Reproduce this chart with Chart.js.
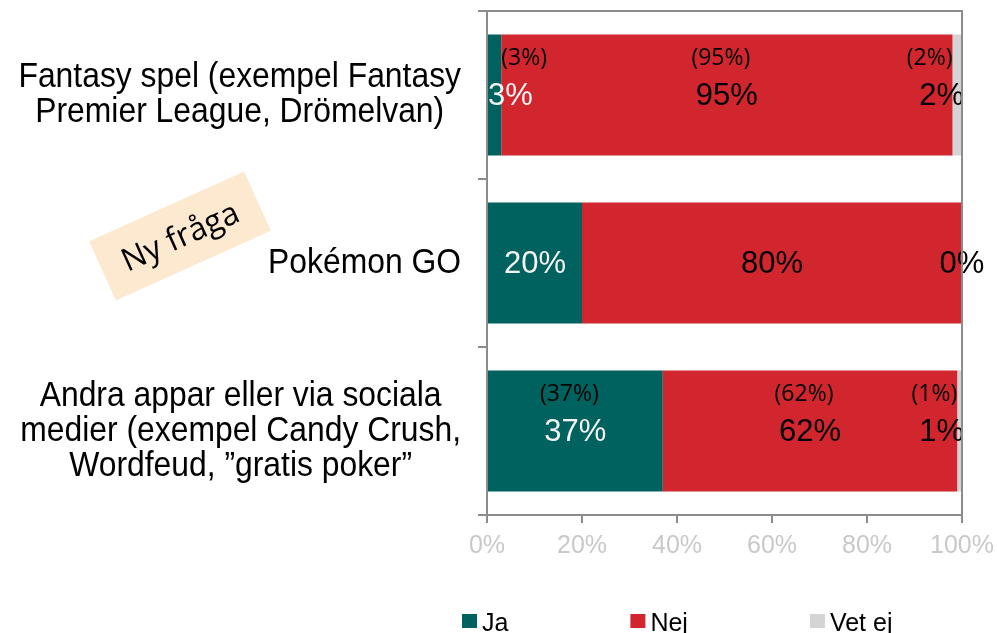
<!DOCTYPE html>
<html>
<head>
<meta charset="utf-8">
<script src="https://cdn.jsdelivr.net/npm/chart.js@4.4.1/dist/chart.umd.min.js"></script>
<style>
  html, body { margin: 0; padding: 0; background: #ffffff; }
  #wrap { width: 997px; height: 633px; position: relative; }
</style>
</head>
<body>
<div id="wrap"><canvas id="c" width="997" height="633"></canvas></div>
<script>
// ---- data ----
const categories = [
  ['Fantasy spel (exempel Fantasy', 'Premier League, Drömelvan)'],
  ['Pokémon GO'],
  ['Andra appar eller via sociala', 'medier (exempel Candy Crush,', 'Wordfeud, ”gratis poker”']
];
const seriesNames = ['Ja', 'Nej', 'Vet ej'];
const jaValues = [3, 20, 37];
const nejValues = [95, 80, 62];
const vetEjValues = [2, 0, 1];
// previous measurement (shown in parentheses); new question has none
const jaPrev = [3, null, 37];
const nejPrev = [95, null, 62];
const vetEjPrev = [2, null, 1];
const xTicks = [0, 20, 40, 60, 80, 100];
const noteText = 'Ny fråga';

const colors = ['#00625e', '#d2262f', '#d4d4d4'];
const prevByDataset = [jaPrev, nejPrev, vetEjPrev];
const AXIS = '#8c8c8c';

const frame = {
  id: 'frame',
  afterDraw(chart) {
    const { ctx, chartArea: a } = chart;
    ctx.save();
    ctx.strokeStyle = AXIS;
    ctx.lineWidth = 2;
    ctx.beginPath();
    ctx.moveTo(a.left, a.top);
    ctx.lineTo(a.right, a.top);
    ctx.lineTo(a.right, a.bottom);
    ctx.stroke();
    ctx.restore();
  }
};

const dataLabels = {
  id: 'dataLabels',
  afterDatasetsDraw(chart) {
    const ctx = chart.ctx;
    const last = chart.data.datasets.length - 1;
    chart.data.datasets.forEach((ds, di) => {
      const meta = chart.getDatasetMeta(di);
      meta.data.forEach((el, i) => {
        const v = ds.data[i];
        const p = el.getProps(['x', 'base', 'y'], true);
        const left = Math.min(p.x, p.base), right = Math.max(p.x, p.base);
        const segW = right - left;
        const center = (left + right) / 2;
        ctx.save();
        // main label
        ctx.font = '31px "Liberation Sans", Arial, sans-serif';
        ctx.textBaseline = 'middle';
        ctx.textAlign = 'center';
        const t = v + '%';
        const tw = ctx.measureText(t).width;
        let cx = center;
        if (tw > segW && v !== 0) {
          if (di === 0) cx = left + tw / 2;
          else if (di === last) cx = right - tw / 2 + 2;
        }
        ctx.fillStyle = di === 0 ? '#f4f4f4' : '#000000';
        ctx.fillText(t, cx, p.y + 1);
        // previous value label
        const pv = prevByDataset[di][i];
        if (pv !== null && pv !== undefined) {
          ctx.font = '23px "Open Sans", sans-serif';
          const pt = '(' + pv + '%)';
          const pw = ctx.measureText(pt).width;
          let px = center - 6;
          if (pw > segW) {
            if (di === 0) px = right + pw / 2;
            else if (di === last) px = left - pw / 2;
          }
          ctx.fillStyle = '#000000';
          ctx.fillText(pt, px, p.y - 37);
        }
        ctx.restore();
      });
    });
  }
};

const yLabels = {
  id: 'yLabels',
  afterDraw(chart) {
    const ctx = chart.ctx;
    const ys = chart.scales.y;
    const rightEdge = chart.chartArea.left - 26;
    const sx = 0.91, lh = 35;
    ctx.save();
    ctx.font = '35px "Liberation Sans", Arial, sans-serif';
    ctx.fillStyle = '#000000';
    ctx.textAlign = 'center';
    ctx.textBaseline = 'middle';
    chart.data.labels.forEach((lines, i) => {
      const arr = Array.isArray(lines) ? lines : [lines];
      const cy = ys.getPixelForValue(i);
      let maxW = 0;
      arr.forEach(l => { maxW = Math.max(maxW, ctx.measureText(l).width * sx); });
      const cx = rightEdge - maxW / 2;
      arr.forEach((l, j) => {
        const y = cy + (j - (arr.length - 1) / 2) * lh;
        ctx.save();
        ctx.translate(cx, y);
        ctx.scale(sx, 1);
        ctx.fillText(l, 0, 0);
        ctx.restore();
      });
    });
    ctx.restore();
  }
};

const note = {
  id: 'note',
  afterDraw(chart) {
    const ctx = chart.ctx;
    const ys = chart.scales.y;
    const cx = 180, cy = ys.getPixelForValue(1) - 27;
    ctx.save();
    ctx.translate(cx, cy);
    ctx.rotate(-24.3 * Math.PI / 180);
    ctx.fillStyle = '#fde9d0';
    ctx.fillRect(-85, -32.5, 170, 65);
    ctx.fillStyle = '#000000';
    ctx.font = '32px "Open Sans", sans-serif';
    ctx.textAlign = 'center';
    ctx.textBaseline = 'middle';
    ctx.fillText(noteText, 0, 2);
    ctx.restore();
  }
};

const legendPlugin = {
  id: 'customLegend',
  afterDraw(chart) {
    const ctx = chart.ctx;
    let x = chart.chartArea.left - 25;
    const baseY = 631;
    ctx.save();
    ctx.font = '25px "Liberation Sans", Arial, sans-serif';
    ctx.textBaseline = 'alphabetic';
    ctx.textAlign = 'left';
    chart.data.datasets.forEach(ds => {
      ctx.fillStyle = ds.backgroundColor;
      ctx.fillRect(x, 614, 15, 14);
      ctx.fillStyle = '#000000';
      const tx = x + 20;
      ctx.fillText(ds.label, tx, baseY);
      x = tx + ctx.measureText(ds.label).width + 122;
    });
    ctx.restore();
  }
};

const valuesByDataset = [jaValues, nejValues, vetEjValues];

new Chart(document.getElementById('c'), {
  type: 'bar',
  data: {
    labels: categories,
    datasets: seriesNames.map((n, k) => ({
      label: n,
      data: valuesByDataset[k],
      backgroundColor: colors[k],
      borderWidth: 0,
      categoryPercentage: 1,
      barPercentage: 0.72
    }))
  },
  options: {
    indexAxis: 'y',
    responsive: false,
    animation: false,
    events: [],
    layout: { padding: { left: 478, top: 11, right: 35, bottom: 64 } },
    plugins: {
      legend: { display: false },
      tooltip: { enabled: false },
      title: { display: false }
    },
    scales: {
      x: {
        stacked: true,
        min: 0,
        max: 100,
        afterBuildTicks(scale) { scale.ticks = xTicks.map(v => ({ value: v })); },
        afterFit(scale) { scale.paddingLeft = 0; scale.paddingRight = 0; },
        ticks: {
          callback: v => v + '%',
          color: '#c9c9c9',
          font: { family: '"Liberation Sans", Arial, sans-serif', size: 25 },
          padding: 8,
          maxRotation: 0
        },
        grid: { drawOnChartArea: false, drawTicks: true, tickLength: 8, color: AXIS, lineWidth: 2 },
        border: { display: true, color: AXIS, width: 2 }
      },
      y: {
        stacked: true,
        ticks: { display: false },
        grid: { offset: true, drawOnChartArea: false, drawTicks: true, tickLength: 9, color: AXIS, lineWidth: 2 },
        border: { display: true, color: AXIS, width: 2 }
      }
    }
  },
  plugins: [frame, dataLabels, yLabels, note, legendPlugin]
});
</script>
</body>
</html>
